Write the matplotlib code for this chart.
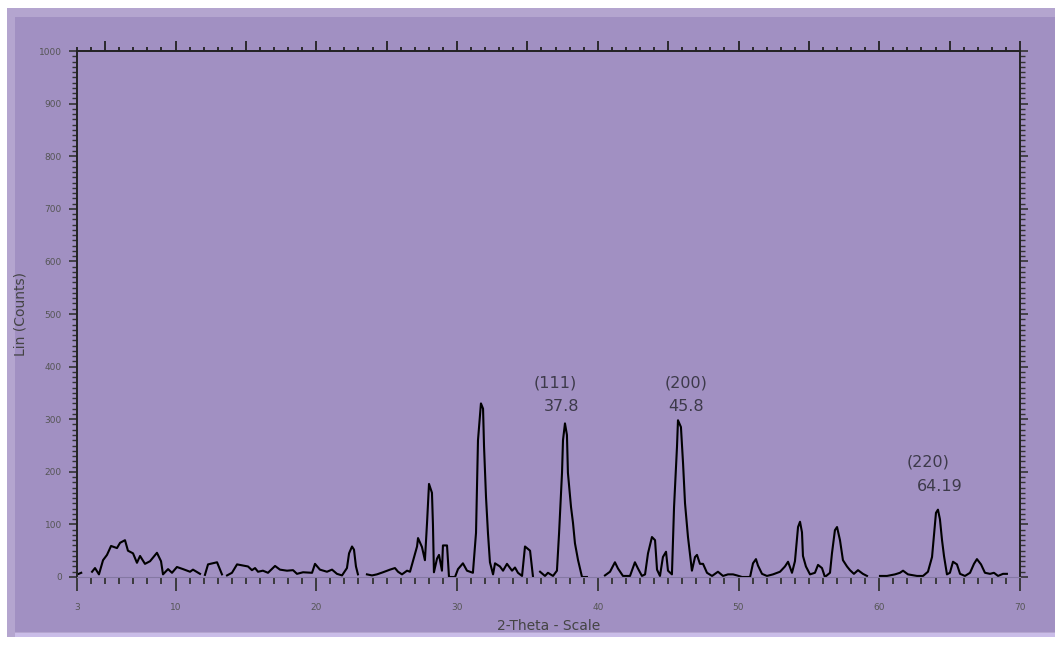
import numpy as np
import matplotlib
matplotlib.use('Agg')
import matplotlib.pyplot as plt
from matplotlib.patches import Rectangle
from matplotlib.ticker import MultipleLocator, FixedLocator

# difratograma (2theta, contagens); nan = trecho sem linha
theta = [3.12, 3.30, np.nan,
         4.07, 4.28, 4.56, 4.85, 5.13, 5.42, 5.84, 6.06, 6.41, 6.62, 6.98, 7.26, 7.48,
         7.83, 8.19, 8.68, 8.97, 9.11, 9.47, 9.75, 10.10, 10.53, 11.03, 11.24, 11.74, np.nan,
         12.09, 12.31, 12.95, 13.30, np.nan,
         13.66, 14.01, 14.37, 15.15, 15.43, 15.65, 15.86, 16.21, 16.57, 17.07, 17.42,
         17.92, 18.35, 18.63, 19.06, 19.70, 19.91, 20.26, 20.76, 21.12, 21.47, 21.83,
         22.18, 22.33, 22.54, 22.68, 22.82, 22.96, np.nan,
         23.60, 23.96, 24.31, 24.74, 25.24, 25.59, 25.81, 26.09, 26.45, 26.66, 26.87,
         27.16, 27.23, 27.51, 27.72, 27.87, 28.01, 28.22, 28.29, 28.36, 28.58, 28.72,
         28.93, 29.00, 29.29, 29.43, 29.86, 30.07, 30.42, 30.71, 31.13, 31.35, 31.49,
         31.70, 31.85, 31.92, 32.06, 32.20, 32.34, 32.56, 32.70, 33.05, 33.27, 33.55,
         33.91, 34.12, 34.33, 34.62, 34.83, 35.19, 35.40, np.nan,
         35.90, 36.25, 36.46, 36.82, 37.10, 37.25, 37.46, 37.53, 37.67, 37.81, 37.88,
         38.10, 38.24, 38.38, 38.60, 38.88, 39.23, np.nan,
         40.51, 40.87, 41.22, 41.44, 41.79, 42.29, 42.64, 42.86, 43.14, 43.36, 43.57,
         43.85, 44.07, 44.21, 44.42, 44.63, 44.85, 44.99, 45.27, 45.42, 45.63, 45.70,
         45.91, 46.06, 46.20, 46.41, 46.69, 46.91, 47.05, 47.26, 47.48, 47.76, 48.12,
         48.54, 48.90, 49.25, 49.61, 49.89, 50.25, 50.82, 51.03, 51.24, 51.38, 51.67,
         52.02, 52.45, 52.95, 53.30, 53.52, 53.80, 54.01, 54.15, 54.23, 54.37, 54.51,
         54.58, 54.79, 55.08, 55.43, 55.65, 55.93, 56.14, 56.50, 56.64, 56.85, 57.00,
         57.21, 57.42, 57.71, 57.92, 58.20, 58.49, 58.84, 59.13, np.nan,
         60.05, 60.55, 61.12, 61.47, 61.69, 62.04, 62.68, 63.11, 63.46, 63.75, 63.89,
         64.03, 64.17, 64.31, 64.46, 64.60, 64.81, 65.02, 65.24, 65.52, 65.74, 66.09,
         66.45, 66.73, 66.94, 67.23, 67.51, 67.87, 68.15, 68.44, 68.79, 69.07]

counts = [6, 8, np.nan,
          10, 17, 5, 32, 42, 59, 55, 65, 70, 50, 45, 27, 40,
          25, 30, 46, 30, 5, 15, 8, 19, 15, 10, 14, 6, np.nan,
          4, 24, 28, 5, np.nan,
          3, 8, 24, 20, 13, 17, 10, 12, 8, 21, 14,
          12, 13, 6, 9, 8, 25, 14, 10, 14, 6, 3,
          17, 45, 58, 52, 20, 5, np.nan,
          5, 3, 5, 9, 14, 17, 10, 5, 12, 10, 30,
          58, 74, 57, 32, 103, 177, 160, 100, 9, 35, 42,
          12, 60, 60, 0, 0, 15, 26, 12, 8, 84, 260,
          330, 320, 248, 152, 83, 28, 5, 26, 20, 12, 25,
          12, 18, 8, 2, 58, 50, 0, np.nan,
          10, 2, 8, 2, 12, 83, 198, 260, 292, 270, 198,
          133, 103, 64, 32, 0, 0, np.nan,
          3, 10, 28, 16, 2, 2, 28, 16, 2, 5, 45,
          76, 70, 14, 2, 38, 48, 12, 5, 133, 248, 298,
          285, 216, 140, 76, 12, 38, 42, 25, 25, 8, 2,
          10, 2, 5, 5, 3, 0, 0, 26, 34, 22, 6,
          2, 5, 10, 20, 29, 8, 30, 70, 95, 105, 85,
          40, 20, 5, 8, 23, 17, 0, 8, 45, 89, 95,
          70, 32, 20, 13, 6, 13, 6, 2, np.nan,
          2, 2, 5, 8, 12, 5, 2, 2, 10, 38, 80,
          122, 128, 110, 70, 40, 5, 8, 29, 24, 6, 2,
          8, 25, 34, 24, 8, 6, 8, 2, 6, 6]

picos_hkl = ['(111)', '(200)', '(220)']
picos_pos = ['37.8', '45.8', '64.19']

roxo = '#a190c2'

fig = plt.figure(figsize=(10.55, 6.45), dpi=100, facecolor='white')
# moldura roxa ao redor do grafico
fig.patches.append(Rectangle((7 / 1055, 8 / 645), 1, 629 / 645, transform=fig.transFigure,
                             facecolor='#b4a5cf', edgecolor='none', zorder=-10))
fig.patches.append(Rectangle((15 / 1055, 13 / 645), 1, 615 / 645, transform=fig.transFigure,
                             facecolor=roxo, edgecolor='none', zorder=-9))
fig.patches.append(Rectangle((15 / 1055, 8 / 645), 1, 4 / 645, transform=fig.transFigure,
                             facecolor='#cabde8', edgecolor='none', zorder=-9))

ax = fig.add_axes([77 / 1055, 68 / 645, 943 / 1055, 526 / 645])
ax.set_facecolor('none')

ax.plot(theta, counts, color='black', lw=1.5)

ax.set_xlim(3, 70)
ax.set_ylim(0, 1000)

# eixos estilo difratometro
for lado in ['top', 'left', 'right']:
    ax.spines[lado].set_color('#222222')
    ax.spines[lado].set_linewidth(1.4)
ax.spines['bottom'].set_color('#8578a3')
ax.spines['bottom'].set_linewidth(0.8)

ax.xaxis.set_major_locator(FixedLocator([3, 10, 20, 30, 40, 50, 60, 70]))
ax.xaxis.set_minor_locator(MultipleLocator(1))
ax.yaxis.set_major_locator(MultipleLocator(100))
ax.yaxis.set_minor_locator(MultipleLocator(10))

ax.tick_params(axis='x', which='major', direction='out', length=10, width=1.3,
               color='#333333', labelsize=6.5, labelcolor='#555555', pad=9)
ax.tick_params(axis='x', which='minor', direction='out', length=5, width=1.3, color='#333333')
ax.tick_params(axis='y', which='major', direction='out', length=6, width=1.2,
               color='#333333', labelsize=6.5, labelcolor='#555555', pad=5,
               right=True)
ax.tick_params(axis='y', which='minor', direction='out', length=3.5, width=1.0,
               color='#333333', right=True)

topo = ax.secondary_xaxis('top')
topo.spines['top'].set_visible(False)
topo.xaxis.set_major_locator(MultipleLocator(5))
topo.xaxis.set_minor_locator(MultipleLocator(1))
topo.tick_params(which='major', direction='out', length=7, width=1.3, color='#222222',
                 labelsize=0, labeltop=False)
topo.tick_params(which='minor', direction='out', length=3, width=1.3, color='#222222')

ax.set_xlabel('2-Theta - Scale', fontsize=10, color='#444444', labelpad=5)
ax.set_ylabel('Lin (Counts)', fontsize=10, color='#444444', labelpad=8)

# indices de miller
ax.text(36.96, 369, picos_hkl[0], ha='center', va='center', fontsize=11.5, color='#3d3a4a')
ax.text(37.46, 325, picos_pos[0], ha='center', va='center', fontsize=11.5, color='#3d3a4a')
ax.text(46.27, 369, picos_hkl[1], ha='center', va='center', fontsize=11.5, color='#3d3a4a')
ax.text(46.27, 325, picos_pos[1], ha='center', va='center', fontsize=11.5, color='#3d3a4a')
ax.text(63.46, 219, picos_hkl[2], ha='center', va='center', fontsize=11.5, color='#3d3a4a')
ax.text(64.31, 173, picos_pos[2], ha='center', va='center', fontsize=11.5, color='#3d3a4a')

fig.savefig('out.png', dpi=100, facecolor='white')
